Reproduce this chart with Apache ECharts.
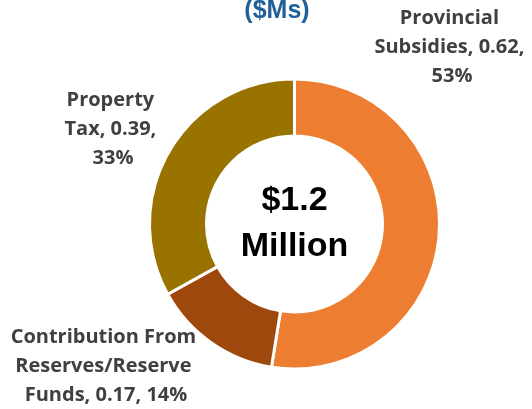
<!DOCTYPE html>
<html>
<head>
<meta charset="utf-8">
<script src="https://cdn.jsdelivr.net/npm/echarts@6/dist/echarts.min.js"></script>
<style>
  html, body { margin: 0; padding: 0; background: #fff; }
  #chart { width: 532px; height: 409px; }
</style>
</head>
<body>
<div id="chart"></div>
<script>
// revenue sources, $Ms
const categories = ['Provincial Subsidies', 'Contribution From Reserves/Reserve Funds', 'Property Tax'];
const values = [0.62, 0.17, 0.39];
const colors = ['#ED7D31', '#9E480E', '#997300'];

// label wrap widths and label centres
const labelWidths = [170, 200, 110];
const labelPos = [[452, 47], [106, 366], [113, 129]];

const total = values.reduce((a, b) => a + b, 0);
const myChart = echarts.init(document.getElementById('chart'));

const option = {
  animation: false,
  graphic: [
    {
      type: 'text',
      x: 277,
      y: 11,
      style: {
        text: '($Ms)',
        font: 'bold 25px "Liberation Sans", Arial',
        fill: '#1F5F9A',
        align: 'center',
        verticalAlign: 'middle'
      }
    },
    {
      type: 'text',
      x: 294.5,
      y: 224,
      style: {
        text: '$' + total.toFixed(1) + '\nMillion',
        font: 'bold 34px "Liberation Sans", Arial',
        lineHeight: 46,
        fill: '#000',
        align: 'center',
        verticalAlign: 'middle'
      }
    }
  ],
  series: [{
    type: 'pie',
    center: [294.5, 224],
    radius: [88, 145],
    startAngle: 90,
    percentPrecision: 0,
    itemStyle: {
      borderColor: '#fff',
      borderWidth: 3
    },
    label: {
      show: true,
      position: 'outside',
      formatter: '{b}, {c}, {d}%',
      fontFamily: '"Open Sans"',
      fontWeight: 'bold',
      fontSize: 20,
      lineHeight: 29,
      color: '#404040',
      align: 'center',
      overflow: 'break'
    },
    labelLine: { show: false },
    labelLayout: function (params) {
      const p = labelPos[params.dataIndex];
      return { x: p[0], y: p[1], align: 'center', verticalAlign: 'middle' };
    },
    data: categories.map(function (name, i) {
      return {
        name: name,
        value: values[i],
        itemStyle: { color: colors[i] },
        label: { width: labelWidths[i] }
      };
    })
  }]
};

myChart.setOption(option);
</script>
</body>
</html>
